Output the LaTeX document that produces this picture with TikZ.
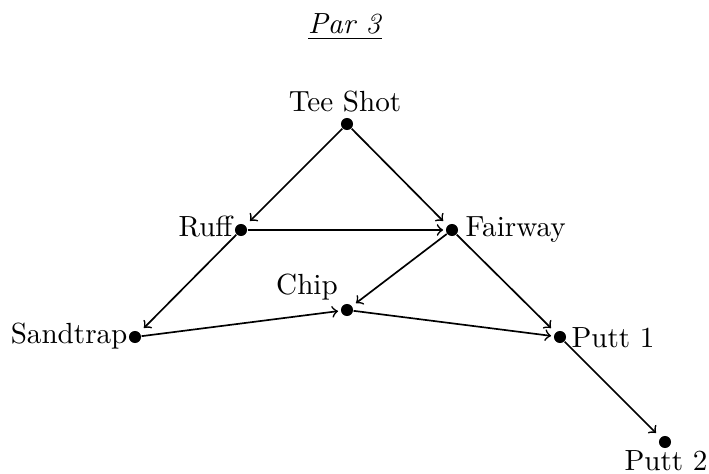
\documentclass[tikz,border=0pt]{standalone}
\begin{document}
\begin{tikzpicture}[x=0.357pt,y=-0.357pt,
  dot/.style={circle,fill=black,inner sep=0pt,minimum size=4.3pt},
  tgt/.style={rectangle,inner sep=0pt,minimum size=6pt},
  lbl/.style={inner sep=0pt,font=\fontsize{10.4pt}{12pt}\selectfont},
  edge/.style={->,line width=0.6pt}]
\useasboundingbox (0,0) rectangle (709,474);
% title
\node[lbl,anchor=base] (title) at (345,34) {\underline{\textit{Par 3}}};
% points
\node[dot] (tee) at (347,124) {};
\node[dot] (ruff) at (241,230) {};
\node[dot] (fair) at (452,230) {};
\node[dot] (chip) at (347,310) {};
\node[dot] (sand) at (135,337) {};
\node[dot] (p1) at (560,337) {};
\node[dot] (p2) at (665,442) {};
% arrow targets
\node[tgt] (ruffT) at (ruff) {};
\node[tgt] (fairT) at (fair) {};
\node[tgt] (chipT) at (chip) {};
\node[tgt] (sandT) at (sand) {};
\node[tgt] (p1T) at (p1) {};
\node[tgt] (p2T) at (p2) {};
% labels
\node[lbl,anchor=base] (teeL) at (345,112) {Tee Shot};
\node[lbl,anchor=base east] (ruffL) at (233,237) {Ruff};
\node[lbl,anchor=base west] (fairL) at (465,237) {Fairway};
\node[lbl,anchor=base] (chipL) at (307,295) {Chip};
\node[lbl,anchor=base east] (sandL) at (128,343) {Sandtrap};
\node[lbl,anchor=base west] (p1L) at (571,347) {Putt 1};
\node[lbl,anchor=base] (p2L) at (666,470) {Putt 2};
% connectors
\draw[edge] (tee) -- (ruffT);
\draw[edge] (tee) -- (fairT);
\draw[edge] (ruff) -- (fairT);
\draw[edge] (ruff) -- (sandT);
\draw[edge] (fair) -- (chipT);
\draw[edge] (fair) -- (p1T);
\draw[edge] (sand) -- (chipT);
\draw[edge] (chip) -- (p1T);
\draw[edge] (p1) -- (p2T);
\end{tikzpicture}
\end{document}
